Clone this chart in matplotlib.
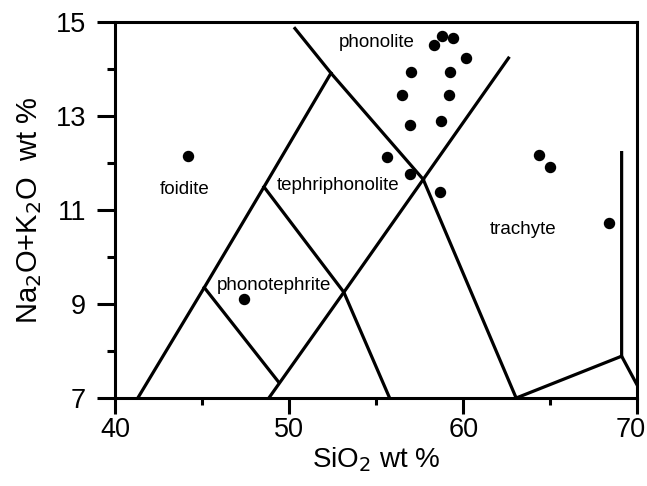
import matplotlib
matplotlib.use("Agg")
import matplotlib.pyplot as plt
import matplotlib.transforms as mtransforms
from matplotlib.ticker import FixedLocator

plt.rcParams['font.family'] = ['Liberation Sans', 'DejaVu Sans']

# 样品点 (SiO2, Na2O+K2O)
sio2 = [44.17, 47.39, 55.61, 56.96, 58.66, 56.96, 58.72, 56.48, 59.16,
        57.02, 59.25, 60.17, 58.32, 58.78, 59.43, 64.38, 64.98, 68.38]
alk = [12.15, 9.10, 12.12, 11.77, 11.39, 12.80, 12.90, 13.45, 13.44,
       13.94, 13.93, 14.24, 14.51, 14.70, 14.66, 12.17, 11.92, 10.72]

# TAS 分区边界线
boundaries = [
    ([41.3, 45.12, 48.55, 52.4], [7.0, 9.35, 11.49, 13.91]),
    ([50.33, 52.4, 57.7], [14.86, 13.91, 11.65]),
    ([45.12, 49.39], [9.35, 7.34]),
    ([48.55, 53.14, 55.77], [11.49, 9.25, 7.0]),
    ([48.83, 53.14, 57.7, 62.6], [7.0, 9.25, 11.65, 14.23]),
    ([57.7, 63.04], [11.65, 7.0]),
    ([63.04, 69.1, 69.1], [7.0, 7.89, 12.22]),
    ([69.1, 70.0], [7.89, 7.27]),
]

# 分区名称
names = ["phonolite", "foidite", "tephriphonolite", "phonotephrite", "trachyte"]
name_x = [55.01, 43.97, 52.80, 49.13, 63.44]
name_y = [14.56, 11.44, 11.53, 9.40, 10.58]

# 刻度
x_major = [40, 50, 60, 70]
x_minor = [45, 55, 65]
y_major = [7, 9, 11, 13, 15]
y_minor = [8, 10, 12, 14]

fig = plt.figure(figsize=(6.47, 4.86), dpi=100)
ax = fig.add_axes([0.178, 0.181, 0.807, 0.774])

for bx, by in boundaries:
    ax.plot(bx, by, color="black", lw=2.3, solid_joinstyle="miter")

ax.scatter(sio2, alk, s=52, color="black", zorder=3)

for n, tx, ty in zip(names, name_x, name_y):
    ax.text(tx, ty, n, fontsize=13.5, ha="center", va="center")

ax.set_xlim(40, 70)
ax.set_ylim(7, 15)
ax.xaxis.set_major_locator(FixedLocator(x_major))
ax.xaxis.set_minor_locator(FixedLocator(x_minor))
ax.yaxis.set_major_locator(FixedLocator(y_major))
ax.yaxis.set_minor_locator(FixedLocator(y_minor))

for s in ax.spines.values():
    s.set_linewidth(2.2)

ax.tick_params(axis="x", which="major", length=11.5, width=2.2, pad=2, labelsize=19.5)
ax.tick_params(axis="x", which="minor", length=5, width=2.2)
ax.tick_params(axis="y", which="major", length=13, width=2.2, pad=8, labelsize=19.5)
ax.tick_params(axis="y", which="minor", length=6, width=2.2)

# 70 这个标签往左挪一点，免得被裁掉
fig.canvas.draw()
last = ax.get_xticklabels()[-1]
last.set_transform(last.get_transform() + mtransforms.ScaledTranslation(-5 / 72, 0, fig.dpi_scale_trans))

ax.set_xlabel("SiO$_2$ wt %", fontsize=20, labelpad=2)
ax.set_ylabel("Na$_2$O+K$_2$O  wt %", fontsize=21, labelpad=8)

plt.savefig("out.png", dpi=100)
